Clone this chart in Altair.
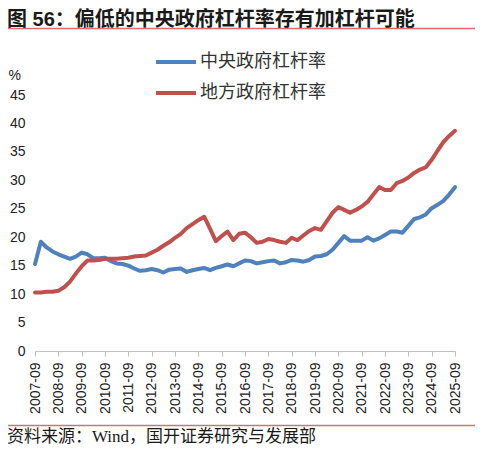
import pandas as pd
import altair as alt

W = 420
H = 256

title_text = "图 56：偏低的中央政府杠杆率存有加杠杆可能"
source_text = "资料来源：Wind，国开证券研究与发展部"

# quarterly points, 2007-09 .. 2025-09
quarters = [f"{y}-{m:02d}" for y in range(2007, 2026) for m in (3, 6, 9, 12)][2:-1]
year_ticks = [q for q in quarters if q.endswith("-09")]

series_names = ["中央政府杠杆率", "地方政府杠杆率"]
colors = ["#4F81BD", "#C0504D"]

central = [
    15.3, 19.2, 18.2, 17.5, 17.0, 16.6, 16.2, 16.6, 17.3, 17.0,
    16.3, 16.3, 16.4, 15.8, 15.4, 15.3, 15.0, 14.5, 14.1, 14.2,
    14.4, 14.2, 13.8, 14.3, 14.4, 14.5, 13.9, 14.2, 14.4, 14.6,
    14.2, 14.6, 14.9, 15.2, 14.9, 15.4, 15.9, 15.8, 15.4, 15.6,
    15.8, 15.9, 15.4, 15.6, 16.0, 15.9, 15.7, 16.0, 16.6, 16.7,
    17.0, 17.8, 19.0, 20.2, 19.4, 19.4, 19.4, 20.0, 19.4, 19.8,
    20.4, 21.0, 21.0, 20.8, 22.0, 23.2, 23.5, 24.0, 25.1, 25.7,
    26.4, 27.5, 28.8,
]
local = [
    10.3, 10.3, 10.4, 10.4, 10.6, 11.2, 12.2, 13.6, 14.9, 15.9,
    15.9, 16.0, 16.2, 16.2, 16.2, 16.3, 16.4, 16.6, 16.7, 16.8,
    17.3, 17.8, 18.5, 19.1, 19.9, 20.6, 21.6, 22.3, 23.0, 23.6,
    21.5, 19.3, 20.2, 21.0, 19.5, 20.6, 20.8, 20.0, 19.0, 19.2,
    19.7, 19.5, 19.2, 19.0, 19.9, 19.5, 20.3, 21.1, 21.6, 21.3,
    22.8, 24.3, 25.3, 24.8, 24.3, 24.8, 25.4, 26.2, 27.5, 28.8,
    28.3, 28.3, 29.5, 29.9, 30.5, 31.3, 31.9, 32.3, 33.6, 35.2,
    36.7, 37.8, 38.7,
]

df = pd.concat([
    pd.DataFrame({"quarter": quarters, "series": series_names[0], "value": central}),
    pd.DataFrame({"quarter": quarters, "series": series_names[1], "value": local}),
])

lines = alt.Chart(df).mark_line(strokeWidth=4, strokeCap="round", strokeJoin="round").encode(
    x=alt.X("quarter:O", sort=quarters,
            scale=alt.Scale(type="point", padding=0),
            axis=alt.Axis(values=year_ticks, labelAngle=-90, title=None,
                          labelFont="Liberation Sans", labelFontSize=14, labelColor="#222",
                          domainColor="#BFBFBF", tickColor="#BFBFBF", tickSize=5,
                          labelPadding=6, grid=False)),
    y=alt.Y("value:Q", scale=alt.Scale(domain=[0, 45], nice=False),
            axis=alt.Axis(values=list(range(0, 50, 5)), title="%", grid=False,
                          domain=False, ticks=False, labelPadding=10,
                          labelFont="Liberation Sans", labelFontSize=14, labelColor="#222",
                          titleAngle=0, titleX=-27, titleY=-20, titleAlign="left",
                          titleBaseline="middle", titleFont="Liberation Sans",
                          titleFontSize=14, titleFontWeight="normal", titleColor="#222")),
    color=alt.Color("series:N", sort=series_names,
                    scale=alt.Scale(domain=series_names, range=colors),
                    legend=alt.Legend(orient="none", legendX=129, legendY=-45, title=None,
                                      symbolType="M-2,0H2", symbolSize=400,
                                      symbolStrokeWidth=4, labelFontSize=18,
                                      labelFont="Noto Sans CJK SC", labelColor="#333",
                                      rowPadding=10, labelOffset=12)),
)

title = alt.Chart(pd.DataFrame({"t": [title_text]})).mark_text(
    align="left", baseline="middle", fontSize=20, fontWeight="bold",
    font="Liberation Sans, Noto Sans CJK SC", color="#1a1a1a"
).encode(text="t:N", x=alt.value(-28), y=alt.value(-75.5))

top_rule = alt.Chart(pd.DataFrame({"t": [0]})).mark_rule(color="#E06C6C", strokeWidth=1.5).encode(
    x=alt.value(-30), x2=alt.value(443), y=alt.value(-66.5))

bottom_rule = alt.Chart(pd.DataFrame({"t": [0]})).mark_rule(color="#E06C6C", strokeWidth=1.5).encode(
    x=alt.value(-30), x2=alt.value(443), y=alt.value(330.5))

source = alt.Chart(pd.DataFrame({"t": [source_text]})).mark_text(
    align="left", baseline="middle", fontSize=17,
    font="Liberation Serif, Noto Sans CJK SC", color="#1a1a1a"
).encode(text="t:N", x=alt.value(-28), y=alt.value(342))

chart = alt.layer(lines, title, top_rule, bottom_rule, source).properties(
    width=W, height=H,
    padding={"left": 27, "top": 87, "right": 20, "bottom": 95},
    autosize=alt.AutoSizeParams(type="none"),
).configure_view(stroke=None)

chart.save("out.html", embed_options={"renderer": "svg", "actions": False})
